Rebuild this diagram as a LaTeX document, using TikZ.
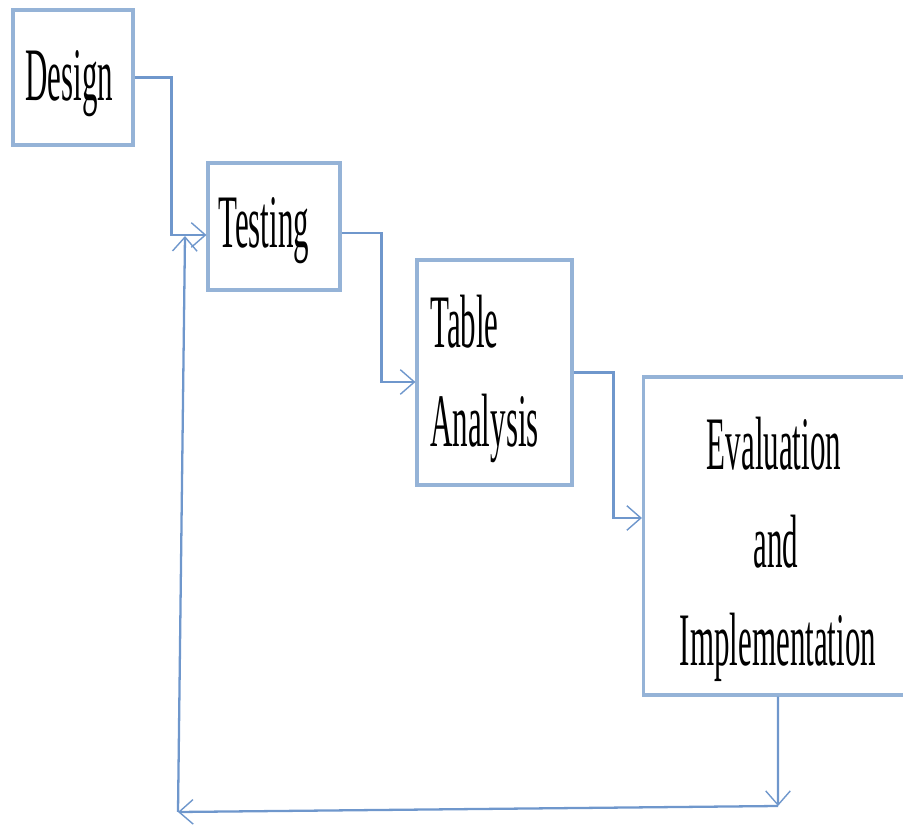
\documentclass[tikz,border=0pt]{standalone}
\usepackage{fontspec}
\usepackage{graphicx}
\setmainfont{Liberation Serif}
\usetikzlibrary{arrows.meta}
\definecolor{boxblue}{HTML}{95B3D7}
\definecolor{lineblue}{HTML}{6F97CC}
\newcommand\narrow[1]{\scalebox{0.41}[1]{#1}}
\tikzset{
  stage/.style={draw=boxblue,line width=1.8pt,fill=white,inner sep=0pt},
  word/.style={font=\fontsize{43}{50}\selectfont,inner sep=0pt},
  flow/.style={draw=lineblue,line width=1.3pt,-{Straight Barb[length=8pt,width=14pt,line width=0.8pt]}}
}
\begin{document}
\begin{tikzpicture}[x=0.02cm,y=-0.02cm]
      \useasboundingbox (0,0) rectangle (903,827);
      % boxes
      \node[stage,minimum width=2.4cm,minimum height=2.7cm] (design) at (73,77.5) {};
      \node[stage,minimum width=2.64cm,minimum height=2.54cm] (testing) at (274,226.5) {};
      \node[stage,minimum width=3.1cm,minimum height=4.5cm] (table) at (494.5,372.5) {};
      \node[stage,minimum width=5.3cm,minimum height=6.36cm] (eval) at (776,536) {};
      % texts
      \node[word,anchor=base west] (tdesign) at (25,101) {\narrow{Design}};
      \node[word,anchor=base west] (ttesting) at (218,248) {\narrow{Testing}};
      \node[word,anchor=base west] (ttable) at (430,348) {\narrow{Table}};
      \node[word,anchor=base west] (tanalysis) at (430,447) {\narrow{Analysis}};
      \node[word,anchor=base] (tevaluation) at (774,470) {\narrow{Evaluation}};
      \node[word,anchor=base] (tand) at (776,567) {\narrow{and}};
      \node[word,anchor=base] (timpl) at (778,665) {\narrow{Implementation}};
      % connectors
      \draw[flow] (design.east) -- ++(37,0) |- ([yshift=-0.17cm]testing.west);
      \draw[flow] ([yshift=-0.13cm]testing.east) -- ++(40,0) |- ([yshift=-0.19cm]table.west);
      \draw[flow] (table.east) -- ++(40,0) |- ([yshift=0.36cm]eval.west);
      % loop back
      \coordinate (br) at (778,806);
      \coordinate (bl) at (178,812);
      \coordinate (tl) at (185,236);
      \draw[flow] ([xshift=0.04cm]eval.south) -- (br);
      \draw[flow] (br) -- (bl);
      \draw[flow] (bl) -- (tl);
    \end{tikzpicture}
\end{document}
